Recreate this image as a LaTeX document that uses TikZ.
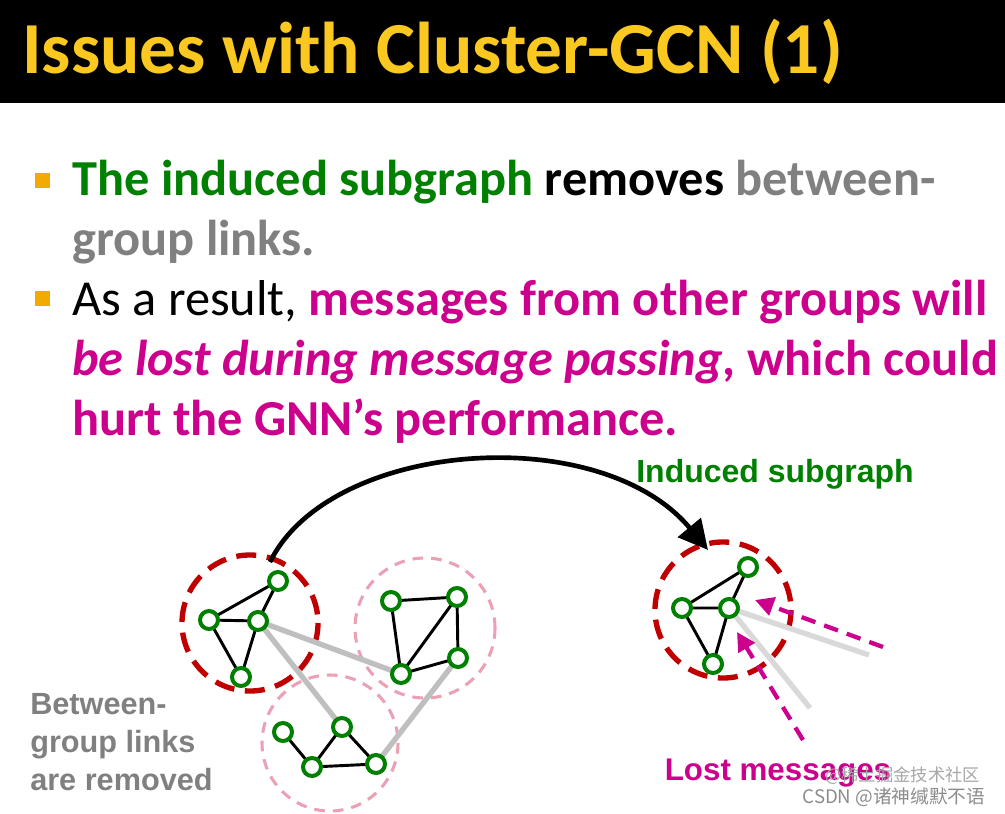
\documentclass[tikz,border=0pt]{standalone}
\usepackage{fontspec}
\setmainfont{Carlito}
\newfontfamily\arialf{Liberation Sans}
\newfontfamily\cjkf{Noto Sans CJK SC}
\usetikzlibrary{arrows.meta}
\definecolor{ttl}{RGB}{250,200,30}
\definecolor{gr}{RGB}{0,128,0}
\definecolor{mg}{RGB}{204,0,140}
\definecolor{gt}{RGB}{128,128,128}
\definecolor{dr}{RGB}{192,0,0}
\definecolor{pk}{RGB}{235,160,180}
\definecolor{bul}{RGB}{240,170,0}
\begin{document}
\begin{tikzpicture}[x=0.75pt,y=-0.75pt,
  v/.style={circle,draw=gr,line width=3pt,fill=white,minimum size=13.5pt,inner sep=0pt},
  e/.style={black,line width=2.2pt},
  gl/.style={gray!50,line width=4pt},
  red/.style={dr,line width=4pt,dash pattern=on 15pt off 8pt},
  pink/.style={pk,line width=2.3pt,dash pattern=on 8pt off 6pt},
  msg/.style={mg,line width=3.2pt,dash pattern=on 11pt off 7pt,-{Triangle[length=14pt,width=14pt]}},
  body/.style={anchor=base west,inner sep=0pt,font=\fontsize{37.8}{40}\selectfont\bfseries}
]
\useasboundingbox (0,0) rectangle (1005,813);
\fill[black] (0,0) rectangle (1005,103);
\node[anchor=base west,inner sep=0pt,text=ttl,font=\fontsize{55}{60}\selectfont\bfseries] (title) at (22,74) {Issues with Cluster-GCN (1)};
\fill[bul] (35,173) rectangle (50,188);
\fill[bul] (35,291) rectangle (50,306);
\node[body] (l1) at (72,195) {\textcolor{gr}{The induced subgraph} removes \textcolor{gt}{between-}};
\node[body,text=gt] (l2) at (72,255) {group links.};
\node[body] (l3) at (72,315) {\mdseries As a result, \bfseries\textcolor{mg}{messages from other groups will}};
\node[body,text=mg] (l4) at (72,375) {\itshape be lost during message passing\upshape, which could};
\node[body,text=mg] (l5) at (72,435) {hurt the GNN’s performance.};

% left clusters
\draw[red] (250,623) circle (68);
\draw[pink] (425,628) circle (70);
\draw[pink] (330,743) circle (68);
\coordinate (a1) at (278,581); \coordinate (a2) at (209,620);
\coordinate (a3) at (258,621); \coordinate (a4) at (241,677);
\coordinate (b1) at (391,601); \coordinate (b2) at (457,597);
\coordinate (b3) at (458,658); \coordinate (b4) at (401,674);
\coordinate (c1) at (283,732); \coordinate (c2) at (342,727);
\coordinate (c3) at (312,767); \coordinate (c4) at (376,764);
\draw[gl] (a3)--(b4) (a3)--(c2) (b3)--(c4);
\draw[e] (a2)--(a1) (a3)--(a1) (a2)--(a3) (a2)--(a4) (a3)--(a4);
\draw[e] (b1)--(b2) (b1)--(b4) (b2)--(b4) (b2)--(b3) (b3)--(b4);
\draw[e] (c1)--(c3) (c3)--(c2) (c2)--(c4) (c3)--(c4);
\foreach \n in {a1,a2,a3,a4,b1,b2,b3,b4,c1,c2,c3,c4} \node[v] (n\n) at (\n) {};

% right cluster
\draw[red] (723,610) circle (68);
\coordinate (r1) at (748,567); \coordinate (r2) at (682,608);
\coordinate (r3) at (729,608); \coordinate (r4) at (713,664);
\coordinate (g1) at (869,655); \coordinate (g2) at (810,708);
\draw[gl,gray!30] (r3)--(g1) (r3)--(g2);
\draw[e] (r2)--(r1) (r3)--(r1) (r2)--(r3) (r2)--(r4) (r3)--(r4);
\foreach \n in {r1,r2,r3,r4} \node[v] (n\n) at (\n) {};
\coordinate (m1s) at (883,647); \coordinate (m1e) at (755,600);
\coordinate (m2s) at (803,740); \coordinate (m2e) at (737,632);
\draw[msg] (m1s)--(m1e);
\draw[msg] (m2s)--(m2e);

% curved arrow
\coordinate (cs) at (270,562); \coordinate (ce) at (708,550);
\draw[line width=3.5pt,-{Triangle[length=22pt,width=22pt]}] (cs) .. controls (330,440) and (600,420) .. (ce);

\node[text=gr,font=\arialf\fontsize{24}{26}\selectfont\bfseries] (ind) at (775,474) {Induced subgraph};
\node[text=mg,font=\arialf\fontsize{23.5}{26}\selectfont\bfseries] (lost) at (778,773) {Lost messages};
\node[text=gt,anchor=north west,align=left,inner sep=0pt,font=\arialf\fontsize{23}{28.5}\selectfont\bfseries] (btw) at (30,693) {Between-\\group links\\are removed};
\node[text=gray!70,anchor=east,font=\cjkf\fontsize{13}{14}\selectfont] (wm1) at (985,776) {@稀土掘金技术社区};
\node[text=gray!90,anchor=east,font=\cjkf\fontsize{14}{15}\selectfont] (wm2) at (990,797) {CSDN @诸神缄默不语};
\end{tikzpicture}
\end{document}
